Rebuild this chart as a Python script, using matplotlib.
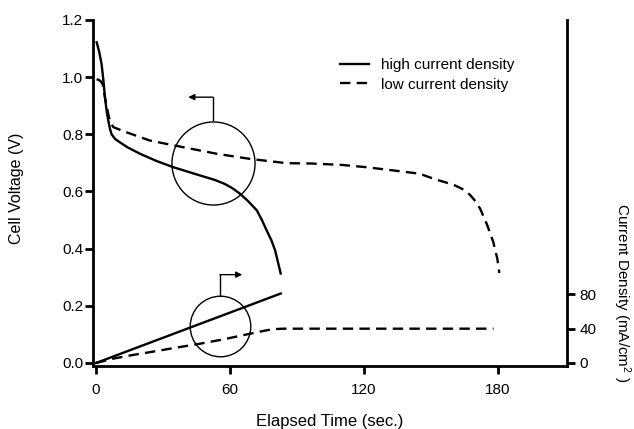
import matplotlib
matplotlib.use("Agg")
import matplotlib.pyplot as plt

plt.rcParams["font.family"] = ["Liberation Sans", "DejaVu Sans"]
plt.rcParams["mathtext.fontset"] = "custom"
plt.rcParams["mathtext.rm"] = "Liberation Sans"
plt.rcParams["mathtext.it"] = "Liberation Sans"
plt.rcParams["lines.scale_dashes"] = False

# cell voltage, high current density
t_v_high = [0.3, 1.4, 2.5, 3.3, 4.0, 4.8, 5.5, 6.3, 7.0, 8.5, 10.7, 14.0, 19.7, 27.0, 34.6, 46.6,
            53.0, 57.5, 61.0, 64.5, 68.0, 72.0, 74.3, 76.4, 78.5, 80.2, 82.7]
v_high = [1.122, 1.09, 1.046, 0.99, 0.93, 0.88, 0.848, 0.818, 0.80, 0.784, 0.772, 0.755, 0.732, 0.707, 0.685, 0.656,
          0.641, 0.627, 0.612, 0.592, 0.567, 0.534, 0.50, 0.464, 0.43, 0.394, 0.313]

# cell voltage, low current density
t_v_low = [0.3, 2.0, 3.0, 4.0, 5.5, 6.5, 7.8, 13.7, 24.2, 39.0, 54.0, 69.0, 85.4, 96.0, 110.0, 121.0,
           136.0, 140.0, 145.0, 148.5, 152.6, 156.5, 160.8, 164.5, 167.5, 170.0, 172.0, 175.2, 177.9,
           179.7, 180.6]
v_low = [0.993, 0.987, 0.975, 0.93, 0.87, 0.84, 0.825, 0.807, 0.778, 0.755, 0.732, 0.714, 0.699, 0.698, 0.693, 0.685,
         0.671, 0.667, 0.662, 0.652, 0.641, 0.632, 0.621, 0.607, 0.588, 0.565, 0.540, 0.482, 0.423,
         0.365, 0.315]

# current density (mA/cm2)
t_i_high = [0.0, 82.7]
i_high = [0.0, 81.0]
t_i_low = [0.0, 8.5, 16.7, 25.7, 34.6, 46.6, 57.0, 66.0, 75.0, 79.0, 84.0, 178.0]
i_low = [0.0, 5.5, 9.4, 13.3, 17.3, 22.5, 27.5, 32.5, 37.4, 39.4, 40.0, 40.0]

x_ticks = [0, 60, 120, 180]
v_ticks = [0.0, 0.2, 0.4, 0.6, 0.8, 1.0, 1.2]
i_ticks = [0, 40, 80]

DASH = (0, (7.5, 4.5))

fig = plt.figure(figsize=(6.34, 4.29), dpi=100)
ax = fig.add_axes([0.1467, 0.1469, 0.7476, 0.8065])
ax2 = ax.twinx()

ax.plot(t_v_high, v_high, color="black", lw=1.7, label="high current density")
ax.plot(t_v_low, v_low, color="black", lw=1.7, linestyle=DASH, label="low current density")
ax2.plot(t_i_high, i_high, color="black", lw=1.7)
ax2.plot(t_i_low, i_low, color="black", lw=1.7, linestyle=DASH)

ax.set_xlim(-1.34, 210.9)
ax.set_ylim(-0.0105, 1.2)
ax2.set_ylim(-3.5, 400)

ax.set_xticks(x_ticks)
ax.set_xticklabels([str(x) for x in x_ticks])
ax.set_yticks(v_ticks)
ax.set_yticklabels(["%.1f" % v for v in v_ticks])
ax2.set_yticks(i_ticks)
ax2.set_yticklabels([str(i) for i in i_ticks])

for a in (ax, ax2):
    a.spines["top"].set_visible(False)
    for s in a.spines.values():
        s.set_linewidth(2.0)
ax.spines["right"].set_visible(False)
ax2.spines["left"].set_visible(False)
ax2.spines["bottom"].set_visible(False)

ax.tick_params(axis="both", direction="out", length=5.5, width=2.0, labelsize=11)
ax.tick_params(axis="x", pad=6.5)
ax.tick_params(axis="y", pad=1.5)
ax2.tick_params(axis="y", direction="out", length=5.5, width=2.0, labelsize=11, pad=3.5)

ax.set_xlabel("Elapsed Time (sec.)", fontsize=12, va="center")
ax.xaxis.set_label_coords(0.5, -0.16)
ax.set_ylabel("Cell Voltage (V)", fontsize=11.5, va="center")
ax.yaxis.set_label_coords(-0.162, 0.514)
ax2.set_ylabel("Current Density (mA/cm$^{2}$ )", fontsize=11, rotation=270, va="center")
ax2.yaxis.set_label_coords(1.116, 0.211)

# circles marking which axis each group of curves belongs to
ax.plot([52.2], [0.701], marker="o", ms=59.8, mfc="none", mec="black", mew=1.0, clip_on=False)
ax.plot([55.5], [0.131], marker="o", ms=43.6, mfc="none", mec="black", mew=1.0, clip_on=False)
ax.plot([52.2, 52.2], [0.849, 0.93], color="black", lw=1.0)
ax.annotate("", xy=(41.3, 0.93), xytext=(52.2, 0.93),
            arrowprops=dict(arrowstyle="-|>", color="black", lw=1.0, mutation_scale=9, shrinkA=0, shrinkB=0))
ax.plot([55.5, 55.5], [0.238, 0.309], color="black", lw=1.0)
ax.annotate("", xy=(65.5, 0.309), xytext=(55.5, 0.309),
            arrowprops=dict(arrowstyle="-|>", color="black", lw=1.0, mutation_scale=9, shrinkA=0, shrinkB=0))

ax.legend(loc="upper left", bbox_to_anchor=(0.536, 0.864), bbox_transform=fig.transFigure,
          frameon=False, fontsize=11, handlelength=1.9, handletextpad=0.8,
          labelspacing=0.35, borderpad=0, borderaxespad=0)

fig.savefig("out.png", dpi=100)
